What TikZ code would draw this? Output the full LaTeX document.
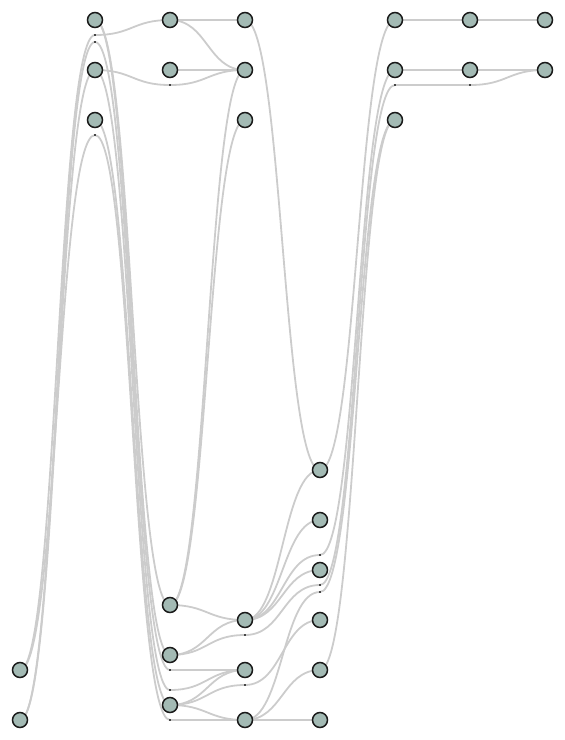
\documentclass[tikz,border=0pt]{standalone}
\usetikzlibrary{calc}
\pgfdeclarelayer{bg}
\pgfsetlayers{bg,main}
\definecolor{nodefill}{RGB}{163,186,180}
\definecolor{linkgray}{RGB}{204,204,204}
\definecolor{nodeedge}{RGB}{26,26,26}
\definecolor{dumcol}{RGB}{70,70,70}
\tikzset{
  vert/.style={circle, draw=nodeedge, line width=1.5pt, fill=nodefill, minimum size=15pt, inner sep=0pt},
  dum/.style={rectangle, fill=dumcol, minimum size=2pt, inner sep=0pt},
  link/.style={draw=linkgray, line width=1.8pt},
}
\newcommand\edgeln[2]{\draw[link] (#1.center) .. controls +(37.5,0) and +(-37.5,0) .. (#2.center);}
\begin{document}
\begin{tikzpicture}[x=1pt,y=-1pt]
\useasboundingbox (0,0) rectangle (565,740);
% layer 0
\node[vert] (A0) at (20,670) {};
\node[vert] (A1) at (20,720) {};
% layer 1
\node[vert] (B0) at (95,20) {};
\node[vert] (B1) at (95,70) {};
\node[vert] (B2) at (95,120) {};
\node[dum] (a1) at (95,35) {};
\node[dum] (b1) at (95,42) {};
\node[dum] (c1) at (95,135) {};
% layer 2
\node[vert] (C0) at (170,20) {};
\node[vert] (C1) at (170,70) {};
\node[vert] (C2) at (170,605) {};
\node[vert] (C3) at (170,655) {};
\node[vert] (C4) at (170,705) {};
\node[dum] (a2) at (170,85) {};
\node[dum] (b2) at (170,670) {};
\node[dum] (c2) at (170,690) {};
\node[dum] (d2) at (170,720) {};
% layer 3
\node[vert] (D0) at (245,20) {};
\node[vert] (D1) at (245,70) {};
\node[vert] (D2) at (245,120) {};
\node[vert] (D3) at (245,620) {};
\node[vert] (D4) at (245,670) {};
\node[vert] (D5) at (245,720) {};
\node[dum] (a3) at (245,635) {};
\node[dum] (b3) at (245,685) {};
% layer 4
\node[vert] (E0) at (320,470) {};
\node[vert] (E1) at (320,520) {};
\node[vert] (E2) at (320,570) {};
\node[vert] (E3) at (320,620) {};
\node[vert] (E4) at (320,670) {};
\node[vert] (E5) at (320,720) {};
\node[dum] (a4) at (320,555) {};
\node[dum] (b4) at (320,585) {};
\node[dum] (c4) at (320,592) {};
% layer 5
\node[vert] (F0) at (395,20) {};
\node[vert] (F1) at (395,70) {};
\node[vert] (F2) at (395,120) {};
\node[dum] (a5) at (395,85) {};
% layer 6
\node[vert] (G0) at (470,20) {};
\node[vert] (G1) at (470,70) {};
\node[dum] (a6) at (470,85) {};
% layer 7
\node[vert] (H0) at (545,20) {};
\node[vert] (H1) at (545,70) {};
\begin{pgfonlayer}{bg}
% 0 -> 1
\edgeln{A0}{a1}
\edgeln{A0}{c1}
\edgeln{A1}{b1}
\edgeln{A1}{B1}
% 1 -> 2
\edgeln{a1}{C0}
\edgeln{B1}{a2}
\edgeln{B0}{C2}
\edgeln{B0}{C3}
\edgeln{b1}{b2}
\edgeln{B1}{c2}
\edgeln{B2}{C4}
\edgeln{c1}{d2}
% 2 -> 3
\edgeln{C0}{D0}
\edgeln{C0}{D1}
\edgeln{C1}{D1}
\edgeln{a2}{D1}
\edgeln{C2}{D1}
\edgeln{C2}{D2}
\edgeln{C2}{D3}
\edgeln{C3}{D3}
\edgeln{C3}{a3}
\edgeln{b2}{D4}
\edgeln{c2}{D4}
\edgeln{C4}{D4}
\edgeln{C4}{b3}
\edgeln{C4}{D5}
\edgeln{d2}{D5}
% 3 -> 4
\edgeln{D0}{E0}
\edgeln{D3}{E0}
\edgeln{D3}{E1}
\edgeln{D3}{a4}
\edgeln{D3}{E2}
\edgeln{a3}{b4}
\edgeln{b3}{E3}
\edgeln{D5}{c4}
\edgeln{D5}{E4}
\edgeln{D5}{E5}
% 4 -> 5
\edgeln{E0}{F0}
\edgeln{a4}{F1}
\edgeln{b4}{a5}
\edgeln{c4}{F2}
\edgeln{E4}{F2}
% 5 -> 6
\edgeln{F0}{G0}
\edgeln{F1}{G1}
\edgeln{a5}{a6}
% 6 -> 7
\edgeln{G0}{H0}
\edgeln{G1}{H1}
\edgeln{a6}{H1}
\end{pgfonlayer}
\end{tikzpicture}
\end{document}
